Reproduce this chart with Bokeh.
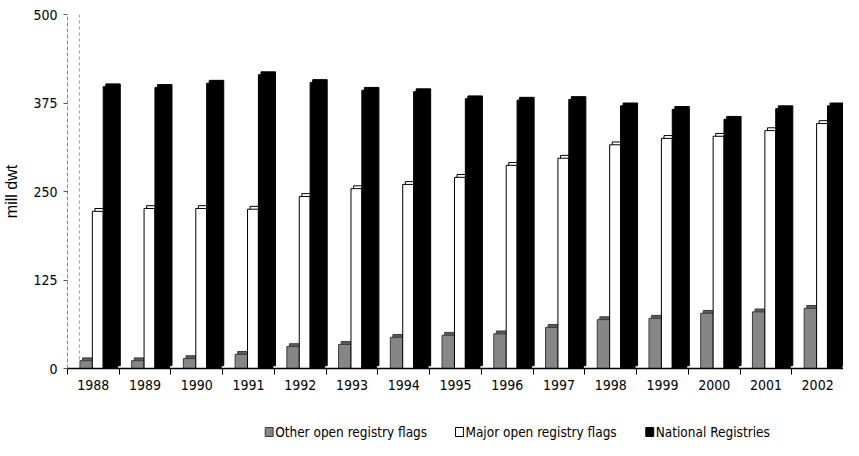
import numpy as np
from bokeh.plotting import figure
from bokeh.layouts import column
from bokeh.models import Range1d, FixedTicker, Span, ColumnDataSource
from bokeh.embed import file_html
from bokeh.resources import INLINE

years = ["1988", "1989", "1990", "1991", "1992", "1993", "1994", "1995",
         "1996", "1997", "1998", "1999", "2000", "2001", "2002"]
other_open = [11, 11, 14, 20, 31, 34, 44, 47, 49, 58, 69, 71, 78, 80, 85]
major_open = [222, 226, 226, 225, 243, 254, 260, 270, 287, 297, 316, 325, 328, 336, 346]
national = [398, 397, 403, 415, 404, 393, 391, 381, 379, 380, 371, 366, 352, 367, 371]
y_ticks = [0, 125, 250, 375, 500]
series_names = ["Other open registry flags", "Major open registry flags", "National Registries"]
series_fill = ["#868686", "white", "black"]
series_line = ["#3c3c3c", "black", "black"]

NARROW = "'Liberation Sans Narrow', 'Arial Narrow', 'DejaVu Sans Condensed', sans-serif"

n = len(years)
idx = np.arange(n)

p = figure(width=843, height=400, output_backend="svg", toolbar_location=None,
           x_range=Range1d(-0.5, n - 0.5), y_range=Range1d(0, 500),
           min_border_left=60, min_border_right=0, min_border_top=14,
           min_border_bottom=32)
p.outline_line_color = None
p.xgrid.visible = False
p.ygrid.visible = False

# back wall edge
p.add_layout(Span(location=-0.27, dimension="height", line_color="#999999",
                  line_dash="3 3", line_width=1))

dx, dy = 0.05, 4.0

def bars(offset, width, vals, fill, line, back_fill):
    xs = idx + offset
    vals = np.array(vals, dtype=float)
    back = ColumnDataSource(dict(x=xs + dx, top=vals + dy, bottom=np.full(n, dy)))
    p.vbar(x="x", top="top", bottom="bottom", width=width, source=back,
           fill_color=back_fill, line_color=line, line_width=1)
    front = ColumnDataSource(dict(x=xs, top=vals))
    return p.vbar(x="x", top="top", bottom=0, width=width, source=front,
                  fill_color=fill, line_color=line, line_width=1)

bars(-0.14, 0.24, other_open, series_fill[0], series_line[0], "#5c5c5c")
bars(0.085, 0.21, major_open, series_fill[1], series_line[1], "white")
bars(0.33, 0.28, national, series_fill[2], series_line[2], "black")

xa = p.xaxis[0]
xa.ticker = FixedTicker(ticks=list(idx), minor_ticks=list(idx - 0.5) + [n - 0.5])
xa.major_label_overrides = {int(i): y for i, y in zip(idx, years)}
xa.major_tick_line_color = None
xa.minor_tick_out = 6
xa.minor_tick_in = 0
xa.minor_tick_line_color = "black"
xa.axis_line_color = "black"
xa.axis_line_width = 1.5
xa.major_label_text_font = NARROW
xa.major_label_text_font_size = "14px"
xa.major_label_text_color = "black"
xa.major_label_standoff = 5

ya = p.yaxis[0]
ya.ticker = FixedTicker(ticks=y_ticks)
ya.minor_tick_line_color = None
ya.major_tick_out = 4
ya.major_tick_in = 0
ya.major_tick_line_color = "#555555"
ya.axis_line_color = "#888888"
ya.axis_line_dash = "4 2"
ya.major_label_text_font = NARROW
ya.major_label_text_font_size = "14px"
ya.major_label_text_color = "black"
ya.major_label_standoff = 6
ya.axis_label = "mill dwt"
ya.axis_label_text_font = "Liberation Sans"
ya.axis_label_text_font_style = "normal"
ya.axis_label_text_font_size = "16px"
ya.axis_label_text_color = "black"
ya.axis_label_standoff = 10

# legend strip as its own small figure; its frame is aligned with the main
# frame (page x 68..851), so its x range uses page pixel coordinates
lg = figure(width=843, height=40, output_backend="svg", toolbar_location=None,
            x_range=Range1d(68, 851), y_range=Range1d(0, 40),
            x_axis_type=None, y_axis_type=None, min_border=0)
lg.outline_line_color = None
lg.xgrid.visible = False
lg.ygrid.visible = False
lx = [271.5, 463.5, 655.5]
lsrc = ColumnDataSource(dict(x=lx, y=[8.5, 8.5, 8.5], fill=series_fill, line=series_line,
                             tx=[v + 6 for v in lx], label=series_names))
lg.rect(x="x", y="y", width=8, height=9, source=lsrc, fill_color="fill", line_color="line")
lg.text(x="tx", y="y", text="label", source=lsrc, text_font={"value": NARROW},
        text_font_size="13.5px", text_baseline="middle", text_color="black")

layout = column(p, lg, spacing=0)
open("out.html", "w").write(file_html(layout, INLINE))
